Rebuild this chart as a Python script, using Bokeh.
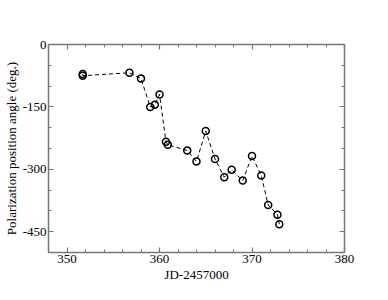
from bokeh.plotting import figure
from bokeh.models import LinearAxis, FixedTicker, Range1d
from bokeh.embed import file_html
from bokeh.resources import INLINE

jd = [351.7, 351.7, 356.75, 358.0, 359.0, 359.5, 360.0, 360.7, 360.9, 363.0, 364.0,
      365.0, 366.0, 367.0, 367.8, 369.0, 370.0, 371.0, 371.75, 372.75, 372.95]
angle = [-71, -75, -68, -82, -150, -145, -120, -234, -241, -255, -281,
         -208, -275, -319, -301, -327, -268, -315, -386, -409, -432]

x_major = [350, 360, 370, 380]
x_minor = [348, 352, 354, 356, 358, 362, 364, 366, 368, 372, 374, 376, 378]
y_major = [0, -150, -300, -450]
y_minor = [-50, -100, -200, -250, -350, -400, -500]
y_labels = {0: "0", -150: "-150", -300: "-300", -450: "-450"}

FONT = "Liberation Serif"
AX = "#777777"

p = figure(width=372, height=284, min_border_left=36, min_border_top=44,
           min_border_right=28, min_border_bottom=28,
           output_backend="svg", toolbar_location=None,
           x_range=Range1d(348, 380), y_range=Range1d(-500, 0))
p.xgrid.visible = False
p.ygrid.visible = False
p.outline_line_color = None
p.background_fill_color = "white"

def style(ax):
    ax.axis_line_color = AX
    ax.axis_line_width = 1.5
    ax.major_tick_line_color = AX
    ax.minor_tick_line_color = AX
    ax.major_tick_in = 5
    ax.major_tick_out = 0
    ax.minor_tick_in = 3
    ax.minor_tick_out = 0
    ax.major_tick_line_width = 1.2
    ax.minor_tick_line_width = 1
    ax.major_label_text_font = FONT
    ax.major_label_text_font_size = "13px"
    ax.major_label_text_color = "black"
    ax.major_label_standoff = 2
    ax.axis_label_text_font = FONT
    ax.axis_label_text_font_size = "13px"
    ax.axis_label_text_font_style = "normal"
    ax.axis_label_text_color = "black"
    ax.axis_label_standoff = 1

p.xaxis.ticker = FixedTicker(ticks=x_major, minor_ticks=x_minor)
p.yaxis.ticker = FixedTicker(ticks=y_major, minor_ticks=y_minor)
p.yaxis.major_label_overrides = y_labels
p.xaxis.axis_label = "JD-2457000"
p.yaxis.axis_label = "Polarization position angle (deg.)"
style(p.xaxis[0])
style(p.yaxis[0])

top = LinearAxis(ticker=FixedTicker(ticks=x_major, minor_ticks=x_minor))
right = LinearAxis(ticker=FixedTicker(ticks=y_major, minor_ticks=y_minor))
style(top)
style(right)
top.major_label_overrides = {t: "" for t in x_major}
right.major_label_overrides = {t: "" for t in y_major}
top.major_label_standoff = 0
right.major_label_standoff = 0
p.add_layout(top, "above")
p.add_layout(right, "right")

p.line(jd, angle, line_color="black", line_width=1, line_dash="4 3")
p.scatter(jd, angle, marker="circle", size=7, fill_color="white", fill_alpha=0,
          line_color="black", line_width=1.5)

open("out.html", "w").write(file_html(p, INLINE))
